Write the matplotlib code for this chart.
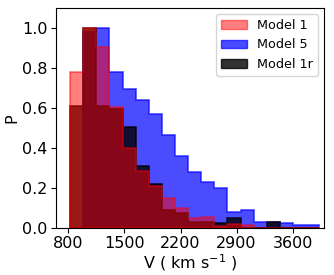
import numpy as np
import matplotlib
matplotlib.use("Agg")
import matplotlib.pyplot as plt
from matplotlib.patches import Patch

# bin edges (km/s)
bin_lo, bin_hi, n_bins = 821, 3932, 19
edges = np.linspace(bin_lo, bin_hi, n_bins + 1)
centers = 0.5 * (edges[:-1] + edges[1:])

model1 = [0.782, 1.0, 0.905, 0.604, 0.397, 0.283, 0.208, 0.147, 0.097, 0.047,
          0.055, 0.008, 0.018, 0.013, 0.0, 0.0, 0.0, 0.0, 0.0]
model5 = [0.0, 0.98, 1.0, 0.779, 0.694, 0.64, 0.572, 0.465, 0.358, 0.281,
          0.227, 0.20, 0.08, 0.09, 0.03, 0.03, 0.022, 0.013, 0.013]
model1r = [0.61, 1.0, 0.61, 0.594, 0.503, 0.307, 0.22, 0.091, 0.072, 0.03,
           0.027, 0.025, 0.047, 0.0, 0.0, 0.027, 0.0, 0.0, 0.0]

labels = ["Model 1", "Model 5", "Model 1r"]
xticks = [800, 1500, 2200, 2900, 3600]
yticks = [0.0, 0.2, 0.4, 0.6, 0.8, 1.0]

fig = plt.figure(figsize=(3.34, 2.75), dpi=100)
ax = fig.add_axes([0.167, 0.172, 0.803, 0.798])

ax.hist(centers, bins=edges, weights=model5, histtype='stepfilled',
        color='blue', alpha=0.7, edgecolor='blue', linewidth=1.2)
ax.hist(centers, bins=edges, weights=model1r, histtype='stepfilled',
        color='black', alpha=0.8, edgecolor='black', linewidth=1.2)
ax.hist(centers, bins=edges, weights=model1, histtype='stepfilled',
        color='red', alpha=0.5, edgecolor='red', linewidth=1.2)

handles = [Patch(facecolor='red', edgecolor='red', alpha=0.5),
           Patch(facecolor='blue', edgecolor='blue', alpha=0.7),
           Patch(facecolor='black', edgecolor='black', alpha=0.8)]
ax.legend(handles, labels, loc='upper right', fontsize=9.2,
          handlelength=2.0, borderaxespad=0.45)

ax.set_xlim(643, 3991)
ax.set_ylim(0, 1.1)
ax.set_xticks(xticks)
ax.set_yticks(yticks)
ax.set_xticklabels([str(v) for v in xticks])
ax.set_yticklabels([f"{v:.1f}" for v in yticks])
ax.tick_params(labelsize=11.5, pad=2.5)
ax.set_xlabel(r'V ( km s$^{-1}$ )', fontsize=11.5, labelpad=1)
ax.set_ylabel('P', fontsize=11.5, labelpad=2)

fig.savefig("out.png", dpi=100)
